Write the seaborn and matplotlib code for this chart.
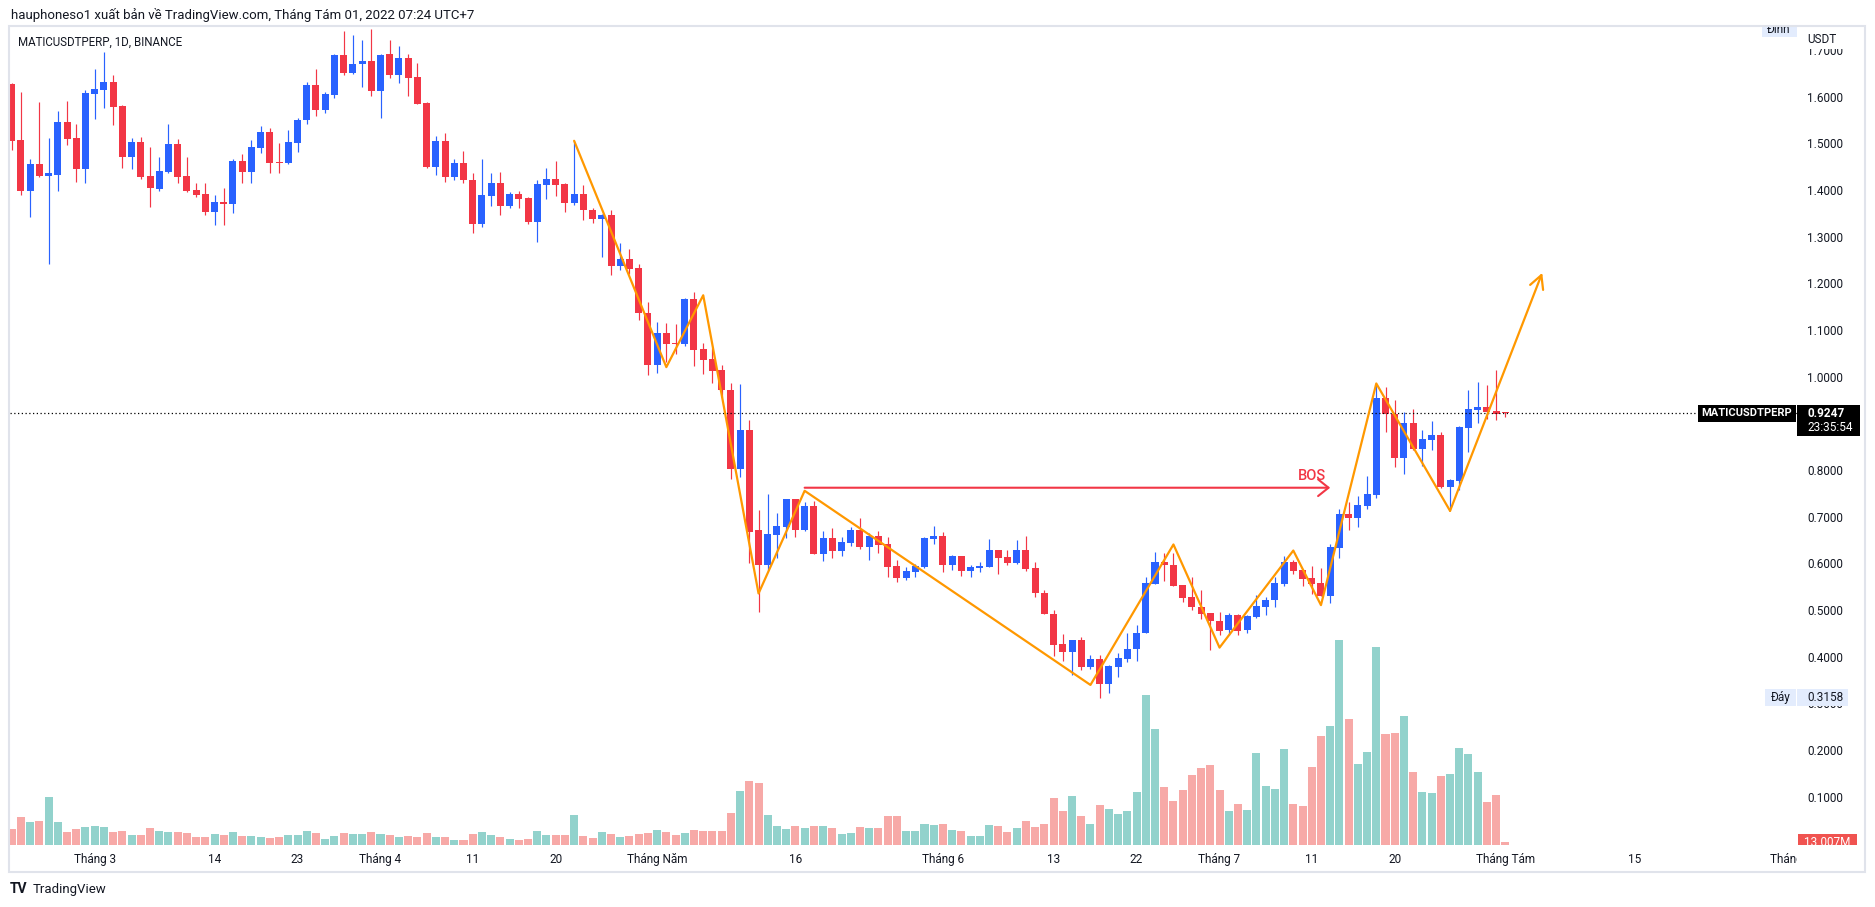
import numpy as np
import pandas as pd
import matplotlib
matplotlib.use("Agg")
import matplotlib.pyplot as plt
import seaborn as sns
from matplotlib.patches import Rectangle
from matplotlib.transforms import blended_transform_factory as btf

# ---------------- data ----------------
start_date = "2022-02-20"
symbol = "MATICUSDTPERP"
header_text = "hauphoneso1 xuất bản về TradingView.com, Tháng Tám 01, 2022 07:24 UTC+7"
symbol_text = "MATICUSDTPERP, 1D, BINANCE"
countdown = "23:35:54"
vol_label = "13.007M"

opens = [1.631, 1.511, 1.402, 1.459, 1.434, 1.436, 1.549, 1.516, 1.448, 1.610,
         1.618, 1.636, 1.583, 1.475, 1.506, 1.433, 1.406, 1.443, 1.503, 1.433,
         1.403, 1.395, 1.356, 1.378, 1.373, 1.466, 1.442, 1.494, 1.528, 1.463,
         1.461, 1.505, 1.553, 1.628, 1.575, 1.607, 1.693, 1.655, 1.673, 1.680,
         1.616, 1.695, 1.650, 1.686, 1.646, 1.590, 1.453, 1.509, 1.431, 1.462,
         1.425, 1.331, 1.391, 1.419, 1.369, 1.396, 1.387, 1.334, 1.414, 1.427,
         1.416, 1.375, 1.396, 1.361, 1.341, 1.350, 1.241, 1.256, 1.236, 1.140,
         1.029, 1.097, 1.076, 1.074, 1.170, 1.063, 1.041, 1.018, 0.975, 0.806,
         0.889, 0.675, 0.599, 0.664, 0.682, 0.741, 0.675, 0.726, 0.624, 0.658,
         0.630, 0.647, 0.675, 0.639, 0.662, 0.645, 0.598, 0.572, 0.585, 0.596,
         0.656, 0.662, 0.599, 0.619, 0.588, 0.594, 0.596, 0.632, 0.617, 0.605,
         0.632, 0.594, 0.540, 0.495, 0.431, 0.414, 0.439, 0.382, 0.398, 0.344,
         0.382, 0.399, 0.419, 0.455, 0.560, 0.606, 0.600, 0.557, 0.531, 0.510,
         0.497, 0.480, 0.461, 0.493, 0.460, 0.488, 0.511, 0.524, 0.560, 0.606,
         0.589, 0.572, 0.561, 0.534, 0.637, 0.709, 0.701, 0.727, 0.751, 0.958,
         0.923, 0.830, 0.904, 0.849, 0.868, 0.879, 0.767, 0.780, 0.894, 0.932,
         0.939, 0.930, 0.926]
highs = [1.632, 1.613, 1.471, 1.593, 1.516, 1.573, 1.594, 1.545, 1.617, 1.663,
         1.699, 1.650, 1.586, 1.516, 1.517, 1.496, 1.475, 1.545, 1.512, 1.475,
         1.419, 1.419, 1.393, 1.407, 1.471, 1.480, 1.511, 1.541, 1.536, 1.505,
         1.532, 1.558, 1.636, 1.663, 1.613, 1.695, 1.744, 1.736, 1.725, 1.748,
         1.695, 1.726, 1.712, 1.695, 1.675, 1.593, 1.519, 1.525, 1.469, 1.488,
         1.439, 1.471, 1.439, 1.443, 1.399, 1.402, 1.389, 1.425, 1.450, 1.466,
         1.418, 1.509, 1.414, 1.366, 1.353, 1.361, 1.291, 1.277, 1.245, 1.164,
         1.121, 1.119, 1.116, 1.173, 1.186, 1.076, 1.064, 1.029, 0.991, 0.988,
         0.911, 0.718, 0.752, 0.711, 0.741, 0.741, 0.734, 0.737, 0.673, 0.679,
         0.660, 0.681, 0.701, 0.669, 0.673, 0.660, 0.611, 0.596, 0.602, 0.660,
         0.684, 0.671, 0.621, 0.619, 0.600, 0.606, 0.656, 0.632, 0.632, 0.654,
         0.662, 0.606, 0.546, 0.504, 0.452, 0.439, 0.446, 0.407, 0.407, 0.386,
         0.411, 0.454, 0.471, 0.574, 0.628, 0.626, 0.626, 0.557, 0.574, 0.546,
         0.497, 0.499, 0.497, 0.495, 0.493, 0.536, 0.531, 0.574, 0.619, 0.611,
         0.589, 0.598, 0.594, 0.646, 0.719, 0.735, 0.748, 0.791, 0.988, 0.981,
         0.954, 0.928, 0.934, 0.889, 0.909, 0.885, 0.784, 0.898, 0.975, 0.992,
         0.986, 1.018, 0.928]
lows = [1.489, 1.393, 1.346, 1.432, 1.245, 1.402, 1.500, 1.420, 1.418, 1.555,
        1.580, 1.543, 1.451, 1.448, 1.428, 1.368, 1.402, 1.441, 1.419, 1.400,
        1.389, 1.350, 1.329, 1.329, 1.355, 1.418, 1.418, 1.482, 1.441, 1.441,
        1.459, 1.486, 1.544, 1.562, 1.568, 1.601, 1.650, 1.652, 1.625, 1.605,
        1.557, 1.644, 1.632, 1.606, 1.587, 1.451, 1.436, 1.421, 1.425, 1.419,
        1.311, 1.325, 1.369, 1.350, 1.364, 1.366, 1.331, 1.292, 1.384, 1.391,
        1.357, 1.371, 1.339, 1.333, 1.261, 1.221, 1.232, 1.223, 1.125, 1.007,
        1.011, 1.036, 1.052, 1.070, 1.026, 1.009, 0.991, 0.959, 0.784, 0.789,
        0.604, 0.500, 0.589, 0.616, 0.657, 0.659, 0.673, 0.624, 0.609, 0.616,
        0.620, 0.641, 0.634, 0.611, 0.626, 0.574, 0.564, 0.568, 0.574, 0.594,
        0.644, 0.586, 0.589, 0.576, 0.575, 0.584, 0.596, 0.581, 0.600, 0.602,
        0.588, 0.531, 0.494, 0.404, 0.395, 0.364, 0.376, 0.378, 0.3158, 0.326,
        0.359, 0.393, 0.395, 0.455, 0.560, 0.566, 0.556, 0.521, 0.504, 0.485,
        0.418, 0.451, 0.449, 0.449, 0.455, 0.486, 0.493, 0.511, 0.556, 0.581,
        0.554, 0.538, 0.534, 0.519, 0.614, 0.676, 0.682, 0.719, 0.744, 0.884,
        0.811, 0.796, 0.846, 0.812, 0.846, 0.765, 0.718, 0.761, 0.842, 0.904,
        0.913, 0.911, 0.918]
closes = [1.509, 1.402, 1.459, 1.434, 1.439, 1.549, 1.513, 1.448, 1.611, 1.620,
          1.636, 1.582, 1.475, 1.506, 1.432, 1.408, 1.444, 1.503, 1.432, 1.402,
          1.393, 1.356, 1.378, 1.373, 1.466, 1.442, 1.496, 1.528, 1.461, 1.461,
          1.506, 1.553, 1.628, 1.575, 1.609, 1.693, 1.655, 1.673, 1.680, 1.616,
          1.693, 1.650, 1.686, 1.644, 1.588, 1.453, 1.509, 1.432, 1.462, 1.425,
          1.331, 1.393, 1.419, 1.369, 1.395, 1.384, 1.334, 1.416, 1.427, 1.414,
          1.375, 1.395, 1.361, 1.341, 1.350, 1.241, 1.256, 1.234, 1.139, 1.029,
          1.097, 1.074, 1.074, 1.170, 1.061, 1.040, 1.016, 0.974, 0.806, 0.889,
          0.671, 0.599, 0.666, 0.684, 0.741, 0.675, 0.726, 0.624, 0.658, 0.630,
          0.649, 0.675, 0.639, 0.662, 0.643, 0.596, 0.572, 0.587, 0.598, 0.658,
          0.662, 0.599, 0.619, 0.588, 0.596, 0.598, 0.632, 0.616, 0.605, 0.632,
          0.592, 0.539, 0.494, 0.429, 0.414, 0.439, 0.382, 0.398, 0.344, 0.384,
          0.401, 0.420, 0.454, 0.561, 0.606, 0.599, 0.556, 0.530, 0.509, 0.496,
          0.479, 0.459, 0.493, 0.459, 0.491, 0.512, 0.525, 0.561, 0.606, 0.587,
          0.570, 0.559, 0.534, 0.639, 0.709, 0.701, 0.729, 0.752, 0.958, 0.924,
          0.830, 0.904, 0.849, 0.870, 0.879, 0.767, 0.782, 0.896, 0.934, 0.939,
          0.928, 0.924, 0.9247]
volumes_m = [72, 123, 101, 106, 211, 101, 57, 70, 79, 84,
             79, 57, 62, 44, 44, 75, 62, 57, 57, 53,
             35, 35, 48, 44, 57, 40, 40, 35, 31, 35,
             44, 44, 62, 53, 26, 40, 53, 48, 48, 57,
             48, 44, 35, 40, 35, 53, 35, 35, 22, 22,
             48, 57, 44, 35, 26, 22, 26, 62, 44, 44,
             44, 132, 40, 31, 57, 48, 35, 40, 48, 53,
             66, 57, 44, 53, 66, 62, 62, 62, 141, 238,
             282, 273, 132, 84, 70, 84, 75, 84, 84, 75,
             48, 53, 79, 75, 75, 128, 128, 62, 62, 92,
             88, 92, 66, 62, 40, 40, 88, 84, 57, 75,
             106, 79, 92, 207, 150, 216, 128, 92, 176, 158,
             136, 150, 233, 660, 510, 255, 194, 242, 308, 339,
             352, 242, 150, 180, 154, 405, 260, 246, 422, 180,
             172, 343, 480, 524, 902, 554, 356, 409, 871, 488,
             493, 568, 321, 233, 229, 304, 312, 427, 400, 321,
             189, 220, 13]

# zigzag drawing (orange) and BOS line
zigzag_dates = ["2022-04-22", "2022-05-02", "2022-05-06", "2022-05-12", "2022-05-17",
                "2022-06-17", "2022-06-26", "2022-07-01", "2022-07-09", "2022-07-12",
                "2022-07-18", "2022-07-26", "2022-08-05"]
zigzag_prices = [1.509, 1.024, 1.178, 0.539, 0.759, 0.343, 0.644, 0.423, 0.631, 0.514,
                 0.989, 0.716, 1.226]
bos_dates = ["2022-05-17", "2022-07-13"]
bos_price = 0.7656
bos_text = "BOS"

tick_dates = ["2022-03-01", "2022-03-14", "2022-03-23", "2022-04-01", "2022-04-11",
              "2022-04-20", "2022-05-01", "2022-05-16", "2022-06-01", "2022-06-13",
              "2022-06-22", "2022-07-01", "2022-07-11", "2022-07-20", "2022-08-01",
              "2022-08-15", "2022-09-01"]
tick_labels = ["Tháng 3", "14", "23", "Tháng 4", "11", "20", "Tháng Năm", "16", "Tháng 6",
               "13", "22", "Tháng 7", "11", "20", "Tháng Tám", "15", "Tháng 9"]
# 0.9000 is hidden behind the last-price box in the reference
price_ticks = [0.1, 0.2, 0.3, 0.4, 0.5, 0.6, 0.7, 0.8, 1.0, 1.1, 1.2, 1.3, 1.4, 1.5, 1.6, 1.7]

# ---------------- style ----------------
sns.set_theme(style="white")
plt.rcParams["font.family"] = ["Roboto", "DejaVu Sans"]

BLUE = "#2962FF"
RED = "#F23645"
VOL_UP = "#92D2CC"
VOL_DN = "#F7A9A7"
ORANGE = "#FF9800"
TXT = "#131722"
LBL_BG = "#E3ECFD"

W, H = 1875, 907
L, T, R, B = 9.5, 26, 1797, 845          # plot area in pixels
PR = 1865                                 # right edge of price scale
XLIM = (-0.239, 193.63)
YLIM = (0.0, 1.755)
PPX = (YLIM[1] - YLIM[0]) / (B - T)       # price per pixel


def rect(l, t, r, b):
    return [l / W, 1 - b / H, (r - l) / W, (b - t) / H]


def fx(px):
    return (px - L) / (R - L)


def gx(px):
    return (px - R) / (PR - R)


o = np.array(opens); h = np.array(highs); lo = np.array(lows); c = np.array(closes)
v = np.array(volumes_m, dtype=float)
dates = pd.date_range(start_date, periods=len(o), freq="D")
t0 = dates[0]
x = np.array((dates - t0).days)


def day(d):
    return (pd.Timestamp(d) - t0).days


up = c >= o

fig = plt.figure(figsize=(W / 100, H / 100), dpi=100)
fig.patch.set_facecolor("white")

# volume axes (beneath)
ax_v = fig.add_axes(rect(L, T, R, B))
df_v = pd.DataFrame({"x": x, "vol": v, "dir": np.where(up, "up", "down")})
sns.barplot(data=df_v, x="x", y="vol", hue="dir", palette={"up": VOL_UP, "down": VOL_DN},
            native_scale=True, dodge=False, width=0.87, saturation=1, linewidth=0,
            errorbar=None, legend=False, ax=ax_v)
vol_top = v.max() / 0.25
ax_v.set_ylim(0, vol_top)
ax_v.set_xlim(*XLIM)
ax_v.axis("off")

# price axes
ax = fig.add_axes(rect(L, T, R, B), sharex=ax_v)
ax.patch.set_visible(False)
cols = np.where(up, BLUE, RED)
ax.vlines(x, lo, h, colors=cols, linewidth=0.85, zorder=2)
body_b = np.minimum(o, c)
body_h = np.maximum(np.abs(c - o), 0.0022)
ax.bar(x, body_h, bottom=body_b, width=0.76, color=cols, linewidth=0, zorder=3)

# current price dotted line
last = c[-1]
ax.axhline(last, color="black", lw=0.9, ls=(0, (1, 2)), zorder=4)

# zigzag
zz = pd.DataFrame({"x": [day(d) for d in zigzag_dates], "p": zigzag_prices})
sns.lineplot(data=zz.iloc[:-1], x="x", y="p", sort=False, estimator=None,
             color=ORANGE, lw=1.6, ax=ax, zorder=5)
ax.annotate("", xy=(zz.x.iloc[-1], zz.p.iloc[-1]), xytext=(zz.x.iloc[-2], zz.p.iloc[-2]),
            arrowprops=dict(arrowstyle="->,head_length=0.95,head_width=0.5", color=ORANGE,
                            lw=1.6, shrinkA=0, shrinkB=0, mutation_scale=10), zorder=5)

# BOS
bx0, bx1 = day(bos_dates[0]), day(bos_dates[1])
ax.annotate("", xy=(bx1, bos_price), xytext=(bx0, bos_price),
            arrowprops=dict(arrowstyle="->,head_length=0.75,head_width=0.6", color=RED,
                            lw=1.5, shrinkA=0, shrinkB=0, mutation_scale=10), zorder=5)
ax.annotate(bos_text, xy=(bx1, bos_price), xytext=(-13, 8.5), textcoords="offset points",
            ha="center", va="center", color=RED, fontsize=10.5, fontweight="medium",
            zorder=6)

ax.set_xlim(*XLIM)
ax.set_ylim(*YLIM)
ax.axis("off")

tr_main = btf(ax.transAxes, ax.transData)
# symbol label on price line
ax.add_patch(Rectangle((fx(1698), last - 8.5 * PPX), fx(1796) - fx(1698), 17 * PPX,
                       transform=tr_main, facecolor="black", edgecolor="none", zorder=7,
                       clip_on=False))
ax.text(fx(1747), last, symbol, transform=tr_main, color="white", fontsize=8,
        fontweight="bold", ha="center", va="center", zorder=8)

# high / low labels
hi_p, lo_p = h.max(), lo.min()
ax.add_patch(Rectangle((fx(1761.7), hi_p - 8 * PPX), fx(1796.7) - fx(1761.7), 16 * PPX,
                       transform=tr_main, facecolor=LBL_BG, edgecolor="none", zorder=7))
ax.text(fx(1779), hi_p, "Đỉnh", transform=tr_main, color=TXT, fontsize=8.5,
        ha="center", va="center", zorder=8, clip_on=True)
ax.add_patch(Rectangle((fx(1765), lo_p - 8.35 * PPX), fx(1796) - fx(1765), 16.7 * PPX,
                       transform=tr_main, facecolor=LBL_BG, edgecolor="none", zorder=7))
ax.text(fx(1780.5), lo_p, "Đáy", transform=tr_main, color=TXT, fontsize=8.5,
        ha="center", va="center", zorder=8)

# price scale
ax_p = fig.add_axes(rect(R, T, PR, B))
ax_p.set_xlim(0, 1)
ax_p.set_ylim(*YLIM)
ax_p.axis("off")
tr_p = btf(ax_p.transAxes, ax_p.transData)
for p in price_ticks:
    ax_p.text(gx(1807), p, f"{p:.4f}", transform=tr_p, color=TXT, fontsize=8.5,
              ha="left", va="center", clip_on=True)
usdt_low = YLIM[1] - (49 - T) * PPX
ax_p.add_patch(Rectangle((0, usdt_low), 1, YLIM[1] - usdt_low, transform=tr_p,
                         facecolor="white", edgecolor="none", zorder=3))
ax_p.text(gx(1807), YLIM[1] - (40 - T) * PPX, "USDT", transform=tr_p, color=TXT,
          fontsize=8.5, ha="left", va="center", zorder=4)
# current price box
ax_p.add_patch(Rectangle((0, last - 22.4 * PPX), gx(1860), 30.7 * PPX, transform=tr_p,
                         facecolor="black", edgecolor="none", zorder=3))
ax_p.text(gx(1807), last, f"{last:.4f}", transform=tr_p, color="white", fontsize=8.5,
          fontweight="bold", ha="left", va="center", zorder=4)
ax_p.text(gx(1807), last - 14 * PPX, countdown, transform=tr_p, color="white",
          fontsize=8.5, ha="left", va="center", zorder=4)
# low value box
ax_p.add_patch(Rectangle((0, lo_p - 8.35 * PPX), gx(1848), 16.7 * PPX, transform=tr_p,
                         facecolor=LBL_BG, edgecolor="none", zorder=3))
ax_p.text(gx(1807), lo_p, f"{lo_p:.4f}", transform=tr_p, color=TXT, fontsize=8.5,
          ha="left", va="center", zorder=4)
# last volume box
vol_y = v[-1] / vol_top * YLIM[1]
ax_p.add_patch(Rectangle((gx(1798), vol_y - 8 * PPX), gx(1857) - gx(1798), 16 * PPX,
                         transform=tr_p, facecolor="#F05350", edgecolor="none", zorder=3))
ax_p.text(gx(1827.5), vol_y, vol_label, transform=tr_p, color="white", fontsize=8.5,
          ha="center", va="center", zorder=4, clip_on=True)

# time axis
ax_t = fig.add_axes(rect(L, B, R, 872), sharex=ax)
ax_t.axis("off")
tr_t = btf(ax_t.transData, ax_t.transAxes)
for d, lab in zip(tick_dates, tick_labels):
    ax_t.text(day(d), 0.47, lab, transform=tr_t, color=TXT, fontsize=8.5,
              ha="center", va="center", clip_on=True)
ax_t.set_xlim(*XLIM)

# frame
fig.add_artist(Rectangle((8.5 / W, 1 - 872 / H), (PR - 8.5) / W, (872 - T) / H,
                         transform=fig.transFigure, fill=False, edgecolor="#E0E3EB", lw=1.5))

# header texts
fig.text(11 / W, 1 - 15 / H, header_text, fontsize=9.5, color=TXT, ha="left", va="center")
fig.text(18 / W, 1 - 42 / H, symbol_text, fontsize=8.3, color=TXT, ha="left", va="center")
fig.text(10 / W, 1 - 889 / H, "TV", fontsize=10, fontweight="bold", color=TXT,
         ha="left", va="center")
fig.text(33 / W, 1 - 889 / H, "TradingView", fontsize=9.5, color=TXT, ha="left", va="center")

fig.savefig("out.png", dpi=100, facecolor="white")
